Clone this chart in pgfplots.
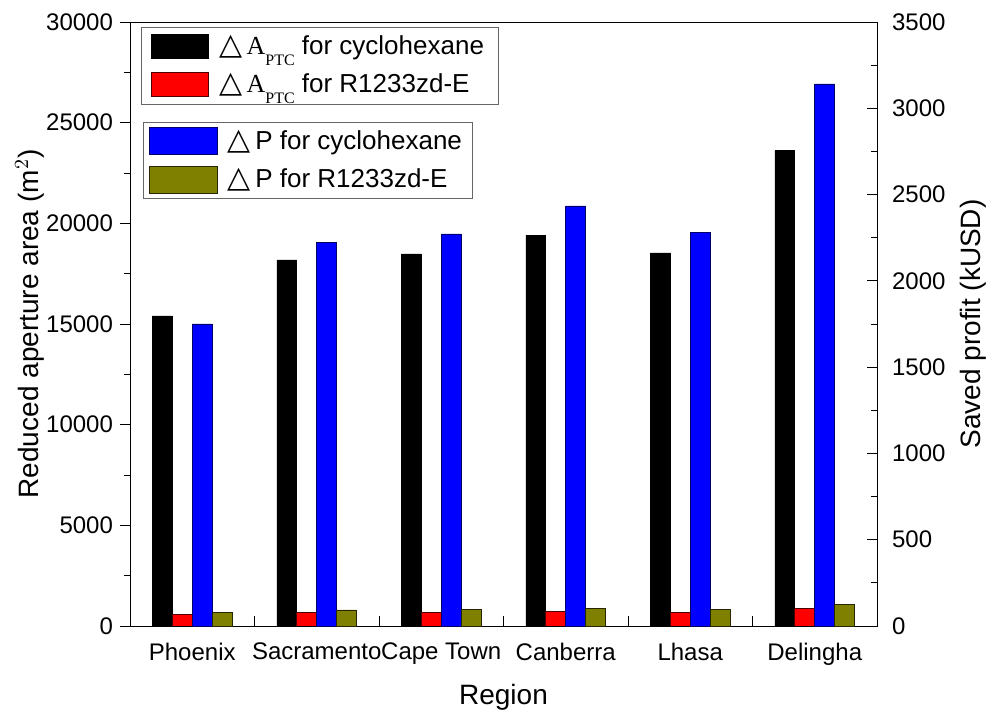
\documentclass[border=0pt]{standalone}
\usepackage{fontspec}
\setmainfont{Liberation Sans}
\newfontfamily\serifA{Liberation Serif}
\newfontfamily\symf{DejaVu Sans}
\usepackage{pgfplots}
\usepackage{pgfplotstable}
\pgfplotsset{compat=1.18}
\usetikzlibrary{calc}
\definecolor{olivebar}{HTML}{808000}
\newcommand{\tri}{\hspace{3pt}{\symf\fontsize{15}{15}\selectfont △}\,}
\newcommand{\dA}{\tri{\serifA A}\raisebox{-0.8ex}{\serifA\fontsize{8}{8}\selectfont PTC}}
\newcommand{\dP}{\tri P}

% idx, dA cyclohexane, dA R1233zd-E (m^2), dP cyclohexane, dP R1233zd-E (kUSD)
\pgfplotstableread{
x  acyc   ar   pcyc  pr
0  15400  580  1750  77
1  18180  660  2225  93
2  18480  680  2272  97
3  19420  710  2434  100
4  18530  680  2283  95
5  23600  880  3141  126
}\data

\pgfplotsset{
  base/.style={
    width=373.5pt, height=302pt, scale only axis,
    xmin=-0.5, xmax=5.5,
    ybar, bar width=0.16,
    tick label style={font=\fontsize{12}{14}\selectfont},
    /pgf/number format/assume math mode=true,
    /pgf/number format/1000 sep={},
    scaled y ticks=false,
    major tick length=5pt, minor tick length=3pt,
    every tick/.style={black, thin},
    legend cell align=left,
  },
}

\begin{document}
\begin{tikzpicture}
\begin{axis}[base,
  ymin=0, ymax=30000, ytick={0,5000,...,30000}, minor y tick num=1,
  tick align=outside, ytick pos=left, xtick pos=bottom,
  xtick={0,...,5},
  xticklabels={Phoenix,Sacramento,Cape Town,Canberra,Lhasa,Delingha},
  x tick style={draw=none},
  ylabel={Reduced aperture area (m$^2$)},
  every axis y label/.style={at={(axis description cs:-0.134,0.5)}, rotate=90, anchor=center,
    font=\fontsize{14}{16}\selectfont},
  xlabel={Region},
  every axis x label/.style={at={(axis description cs:0.5,-0.1175)}, anchor=center,
    font=\fontsize{14}{16}\selectfont},
  legend image code/.code={\draw[#1] (0pt,-6pt) rectangle (28.5pt,6pt);},
  legend style={at={(0.0147,0.9917)}, anchor=north west, draw=black!60,
    font=\fontsize{13}{15}\selectfont, row sep=4pt, inner xsep=5pt, inner ysep=2pt},
]
\addplot[fill=black, draw=black, bar shift=-0.24] table[x=x, y=acyc] {\data};
\addplot[fill=red, draw=black!70!red, bar shift=-0.08] table[x=x, y=ar] {\data};
\legend{\dA{} for cyclohexane, \dA{} for R1233zd-E}
\coordinate (BL) at (rel axis cs:0,0);
\coordinate (TR) at (rel axis cs:1,1);
\end{axis}
\begin{axis}[base,
  ymin=0, ymax=3500, ytick={0,500,...,3500}, minor y tick num=1,
  tick align=inside,
  axis y line*=right, axis x line*=bottom,
  xtick={0.5,1.5,...,4.5}, xticklabels={},
  yticklabel style={xshift=4pt},
  ylabel={Saved profit (kUSD)},
  every axis y label/.style={at={(axis description cs:1.1285,0.5)}, rotate=90, anchor=center,
    font=\fontsize{14}{16}\selectfont},
  legend image code/.code={\draw[#1] (0pt,-6.75pt) rectangle (34pt,6.75pt);},
  legend style={at={(0.017,0.835)}, anchor=north west, draw=black!60,
    font=\fontsize{13}{15}\selectfont, row sep=4pt, inner xsep=3pt, inner ysep=2pt},
]
\addplot[fill=blue, draw=black!60!blue, bar shift=0.08] table[x=x, y=pcyc] {\data};
\addplot[fill=olivebar, draw=black!70!olivebar, bar shift=0.24] table[x=x, y=pr] {\data};
\legend{\dP{} for cyclohexane, \dP{} for R1233zd-E}
\end{axis}
\pgfresetboundingbox
\path ($(BL)+(-65pt,-45.5pt)$) rectangle ($(TR)+(58.5pt,11pt)$);
\end{tikzpicture}
\end{document}
